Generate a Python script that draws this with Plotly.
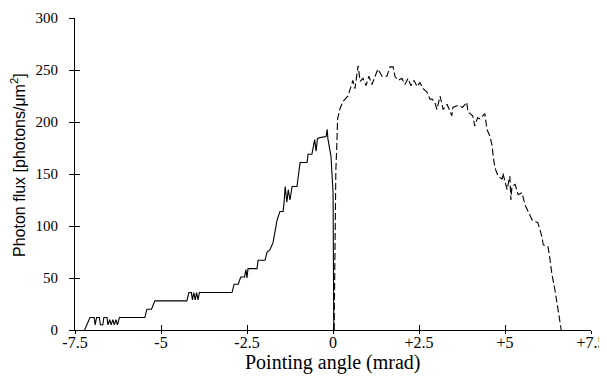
import plotly.graph_objects as go

# Solid curve (negative pointing angles)
solid_x = [-7.22, -7.065, -6.944, -6.913, -6.873, -6.792, -6.762, -6.691, -6.661, -6.570, -6.540,
           -6.489, -6.449, -6.399, -6.358, -6.308, -6.267, -6.207, -5.470, -5.409, -5.278, -5.177,
           -4.248, -4.188, -4.117, -4.086, -4.046, -4.006, -3.965, -3.925, -3.885, -2.936, -2.875,
           -2.754, -2.683, -2.572, -2.532, -2.501, -2.471, -2.209, -2.178, -1.976, -1.916, -1.835,
           -1.744, -1.684, -1.623, -1.542, -1.451, -1.421, -1.391, -1.340, -1.300, -1.250, -1.189,
           -1.048, -1.017, -0.957, -0.755, -0.725, -0.614, -0.583, -0.533, -0.492, -0.452, -0.381,
           -0.200, -0.169, -0.149, -0.058, 0.002, 0.023]
solid_y = [0, 12, 12, 5, 12, 12, 5, 5, 12, 12, 5,
           10, 5, 10, 5, 10, 5, 12, 12, 20, 20, 28,
           28, 36, 36, 29, 36, 29, 36, 29, 36, 36, 44,
           44, 51, 51, 58, 50, 59, 59, 67, 67, 75, 77,
           84, 96, 106, 114, 114, 123, 138, 123, 135, 125, 138,
           138, 146, 161, 161, 169, 169, 176, 183, 172, 184, 185,
           186, 193, 184, 167, 132, 0]

# Dashed curve (positive pointing angles)
dash_x = [0.033, 0.063, 0.083, 0.113, 0.134, 0.204, 0.295, 0.436, 0.497, 0.578, 0.638, 0.699,
          0.729, 0.790, 0.871, 0.961, 1.042, 1.133, 1.224, 1.305, 1.426, 1.567, 1.658, 1.749,
          1.799, 1.890, 2.001, 2.092, 2.183, 2.264, 2.355, 2.446, 2.526, 2.617, 2.728, 2.819,
          2.880, 2.960, 3.021, 3.112, 3.203, 3.314, 3.455, 3.485, 3.627, 3.768, 3.889, 3.920,
          4.061, 4.121, 4.202, 4.273, 4.414, 4.475, 4.566, 4.626, 4.657, 4.707, 4.798, 4.919,
          4.939, 5.060, 5.141, 5.171, 5.202, 5.293, 5.383, 5.494, 5.585, 5.666, 5.787, 5.959,
          6.080, 6.110, 6.252, 6.312, 6.363, 6.454, 6.545, 6.615, 6.635]
dash_y = [0, 125, 154, 180, 203, 213, 220, 225, 232, 240, 232, 245,
          254, 239, 242, 235, 244, 236, 243, 251, 244, 244, 253, 253,
          244, 240, 242, 236, 242, 235, 240, 234, 238, 232, 229, 222,
          222, 219, 212, 225, 212, 217, 206, 214, 216, 214, 219, 210,
          206, 196, 204, 203, 208, 193, 186, 177, 167, 156, 148, 145,
          151, 135, 148, 125, 138, 140, 130, 132, 120, 114, 106, 103,
          89, 82, 80, 67, 54, 38, 18, 6, 0]

x_tickvals = [-7.5, -5, -2.5, 0, 2.5, 5, 7.5]
x_ticktext = ["-7.5", "-5", "-2.5", "0", "+2.5", "+5", "+7.5"]
y_tickvals = [0, 50, 100, 150, 200, 250, 300]

x_title = "Pointing angle (mrad)"
y_title = "Photon flux [photons/\u03bcm<sup>2</sup>]"

serif = "Liberation Serif"
sans = "Liberation Sans"

fig = go.Figure()
fig.add_trace(go.Scatter(x=solid_x, y=solid_y, mode="lines",
                         line=dict(color="black", width=1.1), showlegend=False))
fig.add_trace(go.Scatter(x=dash_x, y=dash_y, mode="lines",
                         line=dict(color="black", width=1.1, dash="7px,3px"), showlegend=False))
# invisible trace on overlay axes that carry the inner half of the crossing ticks
fig.add_trace(go.Scatter(x=[-7.5], y=[0], xaxis="x2", yaxis="y2", mode="markers",
                         marker=dict(opacity=0), showlegend=False, hoverinfo="skip"))

# the page body adds an 8px offset, so the figure is 8px smaller than the window
fig.update_layout(
    width=599, height=373,
    margin=dict(l=67, r=16, t=10, b=51),
    paper_bgcolor="white", plot_bgcolor="white",
    xaxis=dict(range=[-7.5, 7.5], tickvals=x_tickvals, ticktext=x_ticktext, automargin=False,
               showgrid=False, zeroline=False, showline=True, linecolor="black", linewidth=1,
               ticks="outside", ticklen=3, tickcolor="black", ticklabeloverflow="allow",
               ticklabelstandoff=-5,
               tickfont=dict(family=serif, size=16, color="black")),
    yaxis=dict(range=[0, 300], tickvals=y_tickvals, automargin=False,
               showgrid=False, zeroline=False, showline=True, linecolor="black", linewidth=1,
               ticks="outside", ticklen=5, tickcolor="black", ticklabelstandoff=8,
               tickfont=dict(family=serif, size=15, color="black")),
    xaxis2=dict(range=[-7.5, 7.5], overlaying="x", tickvals=x_tickvals, showticklabels=False,
                ticks="inside", ticklen=5, tickcolor="black", showgrid=False, zeroline=False,
                showline=False, anchor="y2", automargin=False),
    yaxis2=dict(range=[0, 300], overlaying="y", tickvals=y_tickvals, showticklabels=False,
                ticks="inside", ticklen=5, tickcolor="black", showgrid=False, zeroline=False,
                showline=False, anchor="x2", automargin=False),
    annotations=[
        dict(text=x_title, xref="paper", yref="paper", x=0.5, y=0, yshift=-32,
             xanchor="center", yanchor="middle", showarrow=False,
             font=dict(family=serif, size=20, color="black")),
        dict(text=y_title, xref="paper", yref="paper", x=0, xshift=-57, y=0.529,
             xanchor="center", yanchor="middle", textangle=-90, showarrow=False,
             font=dict(family=sans, size=16, color="black")),
    ],
)

fig.write_html("out.html")
